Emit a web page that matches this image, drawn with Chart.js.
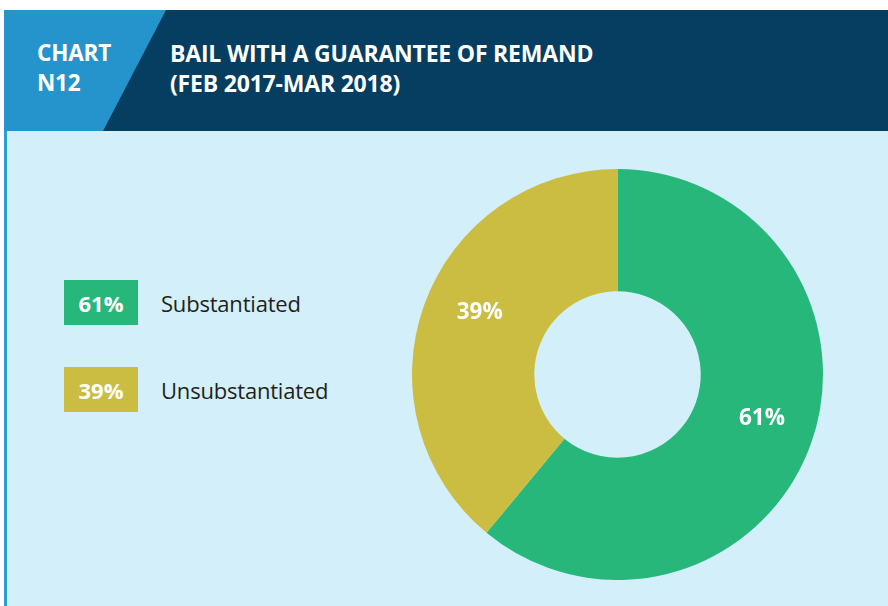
<!DOCTYPE html>
<html>
<head>
<meta charset="utf-8">
<script src="https://cdn.jsdelivr.net/npm/chart.js@4"></script>
<style>
  body { margin: 0; background: #fff; width: 888px; height: 606px; overflow: hidden; position: relative; font-family: "Open Sans", sans-serif; }
  #header { position: absolute; left: 4px; top: 10px; width: 884px; height: 121px; background: #053e60; }
  #tag { position: absolute; left: 0; top: 0; width: 162px; height: 121px; background: #2594cc;
         clip-path: polygon(0 0, 162px 0, 99px 121px, 0 121px); }
  .htext { position: absolute; color: #fff; font-weight: 700; line-height: 30px; letter-spacing: -0.2px; }
  #tagText { left: 33px; top: 28px; font-size: 22.5px; }
  #titleText { left: 166px; top: 28px; font-size: 23px; }
  #body { position: absolute; left: 4px; top: 131px; width: 884px; height: 475px; background: #d3eff9; border-left: 3px solid #2a9fd6; box-sizing: border-box; }
  .legend-row { position: absolute; left: 64px; height: 45px; display: flex; align-items: center; }
  .legend-box { width: 74px; height: 45px; color: #fff; font-weight: 700; font-size: 22px; display: flex; align-items: center; justify-content: center; }
  .legend-label { margin-left: 23px; font-size: 22px; color: #231f20; letter-spacing: -0.2px; }
  #chartBox { position: absolute; left: 412px; top: 169px; width: 411px; height: 411px; }
</style>
</head>
<body>
<div id="header">
  <div id="tag"></div>
  <div class="htext" id="tagText">CHART<br>N12</div>
  <div class="htext" id="titleText">BAIL WITH A GUARANTEE OF REMAND<br>(FEB 2017-MAR 2018)</div>
</div>
<div id="body"></div>
<div id="legend"></div>
<div id="chartBox"><canvas id="chart"></canvas></div>

<script>
const categories = ['Substantiated', 'Unsubstantiated'];
const shares = [61, 39];
const colors = ['#28b77a', '#cbbd42'];

// legend: coloured box with the share, then the category name
const legend = document.getElementById('legend');
const legendTops = [280, 367];
categories.forEach((name, i) => {
  const row = document.createElement('div');
  row.className = 'legend-row';
  row.style.top = legendTops[i] + 'px';
  row.innerHTML = '<div class="legend-box" style="background:' + colors[i] + '">' + shares[i] + '%</div>' +
    '<div class="legend-label">' + name + '</div>';
  legend.appendChild(row);
});

// percentage text inside each slice, nudged a little off the mid angle
const labelTurn = [-0.05, 0.077];
const sliceLabels = {
  id: 'sliceLabels',
  afterDatasetsDraw(chart) {
    const ctx = chart.ctx;
    const meta = chart.getDatasetMeta(0);
    ctx.save();
    ctx.fillStyle = '#ffffff';
    ctx.font = 'bold 22.5px "Open Sans", sans-serif';
    ctx.textAlign = 'center';
    ctx.textBaseline = 'middle';
    meta.data.forEach((arc, i) => {
      const p = arc.getProps(['x', 'y', 'startAngle', 'endAngle', 'outerRadius'], true);
      const mid = (p.startAngle + p.endAngle) / 2 + labelTurn[i];
      const r = p.outerRadius * 0.735;
      ctx.fillText(shares[i] + '%', p.x + Math.cos(mid) * r, p.y + Math.sin(mid) * r);
    });
    ctx.restore();
  }
};

new Chart(document.getElementById('chart'), {
  type: 'doughnut',
  data: {
    labels: categories,
    datasets: [{
      data: shares,
      backgroundColor: colors,
      borderWidth: 0
    }]
  },
  options: {
    responsive: true,
    maintainAspectRatio: false,
    animation: false,
    cutout: '40.5%',
    layout: { padding: 0 },
    plugins: {
      legend: { display: false },
      tooltip: { enabled: false }
    }
  },
  plugins: [sliceLabels]
});
</script>
</body>
</html>
